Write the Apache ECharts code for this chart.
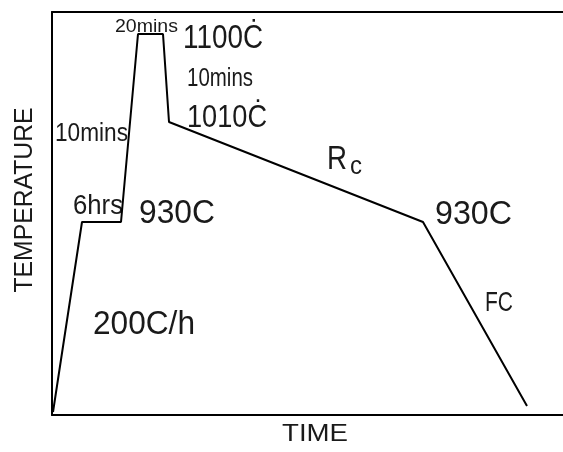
<!DOCTYPE html>
<html>
<head>
<meta charset="utf-8">
<script src="https://cdn.jsdelivr.net/npm/echarts@6/dist/echarts.min.js"></script>
<style>
  html, body {margin: 0; padding: 0; background: #fff;}
  #chart {width: 563px; height: 452px;}
</style>
</head>
<body>
<div id="chart"></div>
<script>
// schematic heat-treatment cycle, arbitrary units
const timePts = [1, 30, 69, 86, 111, 117, 371, 475];
const tempPts = [3, 193, 193, 381, 381, 293, 193, 9];

const FONT = "'Liberation Sans', Arial, sans-serif";

let chart = echarts.init(document.getElementById('chart'));
let measureCtx = document.createElement('canvas').getContext('2d');

// annotation: left x, baseline y, font size, target width (squeezed to fit)
function txt(x, base, text, size, width, extra) {
    let font = size + 'px ' + FONT;
    measureCtx.font = font;
    let sx = width / measureCtx.measureText(text).width;
    return Object.assign({
        type: 'text',
        x: x, y: base - 0.31 * size,
        scaleX: sx,
        style: {text: text, font: font, fill: '#1a1a1a', textVerticalAlign: 'middle'}
    }, extra || {});
}

let ylab = txt(0, 0, 'TEMPERATURE', 25, 185);
ylab.x = 25; ylab.y = 200;
ylab.rotation = Math.PI / 2;
ylab.style.textAlign = 'center';
ylab.originX = 0; ylab.originY = 0;

let option = {
    animation: false,
    grid: {left: 52, right: 0, top: 12, bottom: 37},
    xAxis: [{
        type: 'value', min: 0, max: 511,
        axisLine: {lineStyle: {color: '#000', width: 2}},
        axisTick: {show: false}, axisLabel: {show: false}, splitLine: {show: false}
    }, {
        type: 'value', min: 0, max: 511, position: 'top',
        axisLine: {lineStyle: {color: '#000', width: 2}},
        axisTick: {show: false}, axisLabel: {show: false}, splitLine: {show: false}
    }],
    yAxis: {
        type: 'value', min: 0, max: 403,
        axisLine: {show: true, lineStyle: {color: '#000', width: 2}},
        axisTick: {show: false}, axisLabel: {show: false}, splitLine: {show: false}
    },
    series: [{
        type: 'line',
        data: timePts.map((t, i) => [t, tempPts[i]]),
        symbol: 'none',
        lineStyle: {color: '#000', width: 2},
        silent: true
    }],
    graphic: [
        txt(115, 33, '20mins', 19, 63),
        txt(183, 49, '1100Ċ', 33, 80),
        txt(187, 87, '10mins', 26, 66),
        txt(187, 128, '1010Ċ', 32, 80),
        txt(55, 142, '10mins', 26, 73),
        txt(73, 215, '6hrs', 27, 50),
        txt(139, 224, '930C', 34, 76),
        txt(327, 170, 'R', 34, 20),
        txt(350, 175, 'c', 25, 12),
        txt(435, 225, '930C', 34, 77),
        txt(485, 312, 'FC', 28, 28),
        txt(93, 335, '200C/h', 34, 102),
        txt(282, 442, 'TIME', 24, 66),
        ylab
    ]
};

chart.setOption(option);
</script>
</body>
</html>
